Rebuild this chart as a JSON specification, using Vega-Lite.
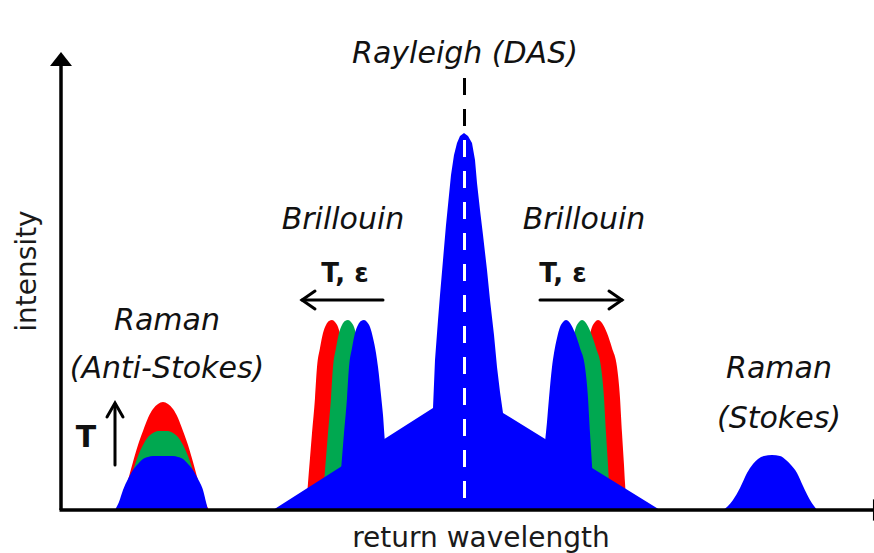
{
  "$schema": "https://vega.github.io/schema/vega-lite/v6.json",
  "width": 813,
  "height": 457,
  "autosize": {"type": "none"},
  "padding": {"left": 61, "top": 53, "right": 0, "bottom": 43},
  "background": "white",
  "config": {"view": {"stroke": null}},
  "datasets": {
    "shapes": [
      {"s":"ras_r","c":"red","x":115,"y":0},{"s":"ras_r","c":"red","x":119,"y":6},{"s":"ras_r","c":"red","x":123,"y":15},{"s":"ras_r","c":"red","x":128,"y":30},{"s":"ras_r","c":"red","x":133,"y":48},{"s":"ras_r","c":"red","x":138,"y":65},{"s":"ras_r","c":"red","x":143,"y":79},{"s":"ras_r","c":"red","x":148,"y":92},{"s":"ras_r","c":"red","x":153,"y":101},{"s":"ras_r","c":"red","x":158,"y":106},{"s":"ras_r","c":"red","x":163,"y":108},{"s":"ras_r","c":"red","x":168,"y":106},{"s":"ras_r","c":"red","x":173,"y":101},{"s":"ras_r","c":"red","x":178,"y":92},{"s":"ras_r","c":"red","x":183,"y":79},{"s":"ras_r","c":"red","x":188,"y":65},{"s":"ras_r","c":"red","x":193,"y":48},{"s":"ras_r","c":"red","x":198,"y":30},{"s":"ras_r","c":"red","x":203,"y":15},{"s":"ras_r","c":"red","x":206,"y":6},{"s":"ras_r","c":"red","x":209,"y":0},

      {"s":"bl_r","c":"red","x":306,"y":0},{"s":"bl_r","c":"red","x":308,"y":27},{"s":"bl_r","c":"red","x":310,"y":52},{"s":"bl_r","c":"red","x":312,"y":77},{"s":"bl_r","c":"red","x":315,"y":112},{"s":"bl_r","c":"red","x":317,"y":143},{"s":"bl_r","c":"red","x":320,"y":162},{"s":"bl_r","c":"red","x":323,"y":177},{"s":"bl_r","c":"red","x":326,"y":185},{"s":"bl_r","c":"red","x":329,"y":189},{"s":"bl_r","c":"red","x":332,"y":190},{"s":"bl_r","c":"red","x":335,"y":188},{"s":"bl_r","c":"red","x":338,"y":183},{"s":"bl_r","c":"red","x":341,"y":172},{"s":"bl_r","c":"red","x":344,"y":157},{"s":"bl_r","c":"red","x":346,"y":143},{"s":"bl_r","c":"red","x":349,"y":115},{"s":"bl_r","c":"red","x":351,"y":95},{"s":"bl_r","c":"red","x":353,"y":68},{"s":"bl_r","c":"red","x":356,"y":45},{"s":"bl_r","c":"red","x":359,"y":25},{"s":"bl_r","c":"red","x":362,"y":5},{"s":"bl_r","c":"red","x":364,"y":0},

      {"s":"br_r","c":"red","x":566,"y":0},{"s":"br_r","c":"red","x":568,"y":5},{"s":"br_r","c":"red","x":571,"y":25},{"s":"br_r","c":"red","x":574,"y":45},{"s":"br_r","c":"red","x":577,"y":68},{"s":"br_r","c":"red","x":579,"y":88},{"s":"br_r","c":"red","x":581,"y":112},{"s":"br_r","c":"red","x":584,"y":143},{"s":"br_r","c":"red","x":586,"y":157},{"s":"br_r","c":"red","x":589,"y":172},{"s":"br_r","c":"red","x":592,"y":183},{"s":"br_r","c":"red","x":595,"y":188},{"s":"br_r","c":"red","x":598,"y":190},{"s":"br_r","c":"red","x":602,"y":187},{"s":"br_r","c":"red","x":607,"y":177},{"s":"br_r","c":"red","x":612,"y":162},{"s":"br_r","c":"red","x":617,"y":143},{"s":"br_r","c":"red","x":620,"y":112},{"s":"br_r","c":"red","x":622,"y":77},{"s":"br_r","c":"red","x":624,"y":45},{"s":"br_r","c":"red","x":625,"y":27},{"s":"br_r","c":"red","x":626,"y":12},{"s":"br_r","c":"red","x":627,"y":0},

      {"s":"ras_g","c":"green","x":117,"y":0},{"s":"ras_g","c":"green","x":122,"y":8},{"s":"ras_g","c":"green","x":127,"y":20},{"s":"ras_g","c":"green","x":132,"y":36},{"s":"ras_g","c":"green","x":138,"y":54},{"s":"ras_g","c":"green","x":143,"y":65},{"s":"ras_g","c":"green","x":148,"y":73},{"s":"ras_g","c":"green","x":153,"y":77},{"s":"ras_g","c":"green","x":158,"y":79},{"s":"ras_g","c":"green","x":163,"y":79},{"s":"ras_g","c":"green","x":168,"y":79},{"s":"ras_g","c":"green","x":173,"y":77},{"s":"ras_g","c":"green","x":178,"y":73},{"s":"ras_g","c":"green","x":183,"y":65},{"s":"ras_g","c":"green","x":188,"y":54},{"s":"ras_g","c":"green","x":194,"y":36},{"s":"ras_g","c":"green","x":199,"y":20},{"s":"ras_g","c":"green","x":204,"y":8},{"s":"ras_g","c":"green","x":208,"y":0},

      {"s":"bl_g","c":"green","x":322,"y":0},{"s":"bl_g","c":"green","x":324,"y":27},{"s":"bl_g","c":"green","x":326,"y":52},{"s":"bl_g","c":"green","x":328,"y":77},{"s":"bl_g","c":"green","x":331,"y":112},{"s":"bl_g","c":"green","x":333,"y":143},{"s":"bl_g","c":"green","x":336,"y":162},{"s":"bl_g","c":"green","x":339,"y":177},{"s":"bl_g","c":"green","x":342,"y":185},{"s":"bl_g","c":"green","x":345,"y":189},{"s":"bl_g","c":"green","x":348,"y":190},{"s":"bl_g","c":"green","x":351,"y":188},{"s":"bl_g","c":"green","x":354,"y":183},{"s":"bl_g","c":"green","x":357,"y":172},{"s":"bl_g","c":"green","x":360,"y":157},{"s":"bl_g","c":"green","x":362,"y":143},{"s":"bl_g","c":"green","x":365,"y":115},{"s":"bl_g","c":"green","x":367,"y":95},{"s":"bl_g","c":"green","x":369,"y":68},{"s":"bl_g","c":"green","x":372,"y":45},{"s":"bl_g","c":"green","x":375,"y":25},{"s":"bl_g","c":"green","x":378,"y":5},{"s":"bl_g","c":"green","x":380,"y":0},

      {"s":"br_g","c":"green","x":550,"y":0},{"s":"br_g","c":"green","x":552,"y":5},{"s":"br_g","c":"green","x":555,"y":25},{"s":"br_g","c":"green","x":558,"y":45},{"s":"br_g","c":"green","x":561,"y":68},{"s":"br_g","c":"green","x":563,"y":88},{"s":"br_g","c":"green","x":565,"y":112},{"s":"br_g","c":"green","x":568,"y":143},{"s":"br_g","c":"green","x":570,"y":157},{"s":"br_g","c":"green","x":573,"y":172},{"s":"br_g","c":"green","x":576,"y":183},{"s":"br_g","c":"green","x":579,"y":188},{"s":"br_g","c":"green","x":582,"y":190},{"s":"br_g","c":"green","x":586,"y":187},{"s":"br_g","c":"green","x":591,"y":177},{"s":"br_g","c":"green","x":596,"y":162},{"s":"br_g","c":"green","x":601,"y":143},{"s":"br_g","c":"green","x":604,"y":112},{"s":"br_g","c":"green","x":606,"y":77},{"s":"br_g","c":"green","x":608,"y":45},{"s":"br_g","c":"green","x":609,"y":27},{"s":"br_g","c":"green","x":610,"y":12},{"s":"br_g","c":"green","x":611,"y":0},

      {"s":"ras_b","c":"blue","x":115,"y":0},{"s":"ras_b","c":"blue","x":119,"y":8},{"s":"ras_b","c":"blue","x":123,"y":20},{"s":"ras_b","c":"blue","x":128,"y":31},{"s":"ras_b","c":"blue","x":133,"y":40},{"s":"ras_b","c":"blue","x":138,"y":46},{"s":"ras_b","c":"blue","x":143,"y":51},{"s":"ras_b","c":"blue","x":148,"y":53},{"s":"ras_b","c":"blue","x":153,"y":54},{"s":"ras_b","c":"blue","x":163,"y":54},{"s":"ras_b","c":"blue","x":173,"y":54},{"s":"ras_b","c":"blue","x":178,"y":53},{"s":"ras_b","c":"blue","x":183,"y":51},{"s":"ras_b","c":"blue","x":188,"y":46},{"s":"ras_b","c":"blue","x":193,"y":40},{"s":"ras_b","c":"blue","x":198,"y":31},{"s":"ras_b","c":"blue","x":203,"y":20},{"s":"ras_b","c":"blue","x":206,"y":8},{"s":"ras_b","c":"blue","x":208,"y":0},

      {"s":"center","c":"blue","x":273,"y":0},{"s":"center","c":"blue","x":433,"y":102},{"s":"center","c":"blue","x":435,"y":150},{"s":"center","c":"blue","x":438,"y":190},{"s":"center","c":"blue","x":440,"y":215},{"s":"center","c":"blue","x":443,"y":250},{"s":"center","c":"blue","x":446,"y":285},{"s":"center","c":"blue","x":449,"y":315},{"s":"center","c":"blue","x":451,"y":335},{"s":"center","c":"blue","x":454,"y":355},{"s":"center","c":"blue","x":457,"y":367},{"s":"center","c":"blue","x":460,"y":374},{"s":"center","c":"blue","x":464,"y":377},{"s":"center","c":"blue","x":468,"y":374},{"s":"center","c":"blue","x":472,"y":367},{"s":"center","c":"blue","x":475,"y":350},{"s":"center","c":"blue","x":477,"y":327},{"s":"center","c":"blue","x":480,"y":300},{"s":"center","c":"blue","x":483,"y":275},{"s":"center","c":"blue","x":487,"y":240},{"s":"center","c":"blue","x":490,"y":210},{"s":"center","c":"blue","x":494,"y":175},{"s":"center","c":"blue","x":497,"y":143},{"s":"center","c":"blue","x":500,"y":118},{"s":"center","c":"blue","x":503,"y":97},{"s":"center","c":"blue","x":660,"y":0},

      {"s":"bl_b","c":"blue","x":338,"y":0},{"s":"bl_b","c":"blue","x":340,"y":27},{"s":"bl_b","c":"blue","x":342,"y":52},{"s":"bl_b","c":"blue","x":344,"y":77},{"s":"bl_b","c":"blue","x":347,"y":112},{"s":"bl_b","c":"blue","x":349,"y":143},{"s":"bl_b","c":"blue","x":352,"y":162},{"s":"bl_b","c":"blue","x":355,"y":177},{"s":"bl_b","c":"blue","x":358,"y":185},{"s":"bl_b","c":"blue","x":361,"y":189},{"s":"bl_b","c":"blue","x":364,"y":190},{"s":"bl_b","c":"blue","x":367,"y":188},{"s":"bl_b","c":"blue","x":370,"y":183},{"s":"bl_b","c":"blue","x":373,"y":172},{"s":"bl_b","c":"blue","x":376,"y":157},{"s":"bl_b","c":"blue","x":378,"y":143},{"s":"bl_b","c":"blue","x":381,"y":115},{"s":"bl_b","c":"blue","x":383,"y":95},{"s":"bl_b","c":"blue","x":385,"y":68},{"s":"bl_b","c":"blue","x":388,"y":45},{"s":"bl_b","c":"blue","x":391,"y":25},{"s":"bl_b","c":"blue","x":394,"y":5},{"s":"bl_b","c":"blue","x":396,"y":0},

      {"s":"br_b","c":"blue","x":534,"y":0},{"s":"br_b","c":"blue","x":536,"y":5},{"s":"br_b","c":"blue","x":539,"y":25},{"s":"br_b","c":"blue","x":542,"y":45},{"s":"br_b","c":"blue","x":545,"y":68},{"s":"br_b","c":"blue","x":547,"y":88},{"s":"br_b","c":"blue","x":549,"y":112},{"s":"br_b","c":"blue","x":552,"y":143},{"s":"br_b","c":"blue","x":554,"y":157},{"s":"br_b","c":"blue","x":557,"y":172},{"s":"br_b","c":"blue","x":560,"y":183},{"s":"br_b","c":"blue","x":563,"y":188},{"s":"br_b","c":"blue","x":566,"y":190},{"s":"br_b","c":"blue","x":570,"y":187},{"s":"br_b","c":"blue","x":575,"y":177},{"s":"br_b","c":"blue","x":580,"y":162},{"s":"br_b","c":"blue","x":585,"y":143},{"s":"br_b","c":"blue","x":588,"y":112},{"s":"br_b","c":"blue","x":590,"y":77},{"s":"br_b","c":"blue","x":592,"y":45},{"s":"br_b","c":"blue","x":593,"y":27},{"s":"br_b","c":"blue","x":594,"y":12},{"s":"br_b","c":"blue","x":595,"y":0},

      {"s":"rs_b","c":"blue","x":723,"y":0},{"s":"rs_b","c":"blue","x":728,"y":4},{"s":"rs_b","c":"blue","x":733,"y":10},{"s":"rs_b","c":"blue","x":740,"y":22},{"s":"rs_b","c":"blue","x":747,"y":37},{"s":"rs_b","c":"blue","x":753,"y":46},{"s":"rs_b","c":"blue","x":758,"y":51},{"s":"rs_b","c":"blue","x":764,"y":54},{"s":"rs_b","c":"blue","x":772,"y":55},{"s":"rs_b","c":"blue","x":780,"y":54},{"s":"rs_b","c":"blue","x":786,"y":50},{"s":"rs_b","c":"blue","x":791,"y":45},{"s":"rs_b","c":"blue","x":797,"y":37},{"s":"rs_b","c":"blue","x":803,"y":24},{"s":"rs_b","c":"blue","x":810,"y":10},{"s":"rs_b","c":"blue","x":814,"y":4},{"s":"rs_b","c":"blue","x":817,"y":0}
    ],
    "segs": [
      {"id":"arrL","o":1,"x":383,"y":210},{"id":"arrL","o":2,"x":302,"y":210},
      {"id":"arrLh","o":1,"x":315,"y":219},{"id":"arrLh","o":2,"x":302,"y":210},{"id":"arrLh","o":3,"x":315,"y":201},
      {"id":"arrR","o":1,"x":540,"y":210},{"id":"arrR","o":2,"x":622,"y":210},
      {"id":"arrRh","o":1,"x":609,"y":219},{"id":"arrRh","o":2,"x":622,"y":210},{"id":"arrRh","o":3,"x":609,"y":201},
      {"id":"arrT","o":1,"x":115,"y":45},{"id":"arrT","o":2,"x":115,"y":106},
      {"id":"arrTh","o":1,"x":107,"y":93},{"id":"arrTh","o":2,"x":115,"y":107},{"id":"arrTh","o":3,"x":123,"y":93}
    ],
    "axes": [
      {"x":61,"y":0,"x2":61,"y2":452},
      {"x":59.5,"y":0,"x2":880,"y2":0}
    ],
    "headUp": [{"x":61,"y":451}],
    "headRight": [{"x":880,"y":0}],
    "dashBlack": [{"x":464.5,"y":432,"y2":380}],
    "dashWhite": [{"x":464.5,"y":370,"y2":0}],
    "italicLabels": [
      {"t":"Rayleigh (DAS)","x":465,"y":447},
      {"t":"Brillouin","x":343,"y":281},
      {"t":"Brillouin","x":584,"y":281},
      {"t":"Raman","x":167,"y":180},
      {"t":"(Anti-Stokes)","x":167,"y":132},
      {"t":"Raman","x":779,"y":132},
      {"t":"(Stokes)","x":779,"y":82}
    ],
    "boldLabels": [
      {"t":"T, ε","x":345,"y":228},
      {"t":"T, ε","x":563,"y":228}
    ],
    "tLabel": [{"t":"T","x":86,"y":63}],
    "xTitle": [{"t":"return wavelength","x":481,"y":-37}],
    "yTitle": [{"t":"intensity","x":28,"y":239}]
  },
  "encoding": {
    "x": {"field": "x", "type": "quantitative", "scale": {"domain": [61, 874], "nice": false, "zero": false}, "axis": null},
    "y": {"field": "y", "type": "quantitative", "stack": null, "scale": {"domain": [0, 457], "nice": false, "zero": false}, "axis": null}
  },
  "layer": [
    {
      "data": {"name": "shapes"},
      "transform": [{"filter": "datum.c === 'red'"}],
      "mark": {"type": "area", "color": "#FF0000", "interpolate": "monotone"},
      "encoding": {"detail": {"field": "s"}}
    },
    {
      "data": {"name": "shapes"},
      "transform": [{"filter": "datum.c === 'green'"}],
      "mark": {"type": "area", "color": "#00A850", "interpolate": "monotone"},
      "encoding": {"detail": {"field": "s"}}
    },
    {
      "data": {"name": "shapes"},
      "transform": [{"filter": "datum.c === 'blue' && datum.s === 'center'"}],
      "mark": {"type": "area", "color": "#0000FF", "interpolate": "linear"},
      "encoding": {"detail": {"field": "s"}}
    },
    {
      "data": {"name": "shapes"},
      "transform": [{"filter": "datum.c === 'blue' && datum.s !== 'center'"}],
      "mark": {"type": "area", "color": "#0000FF", "interpolate": "monotone"},
      "encoding": {"detail": {"field": "s"}}
    },
    {
      "data": {"name": "dashBlack"},
      "mark": {"type": "rule", "color": "#000000", "strokeWidth": 3, "strokeDash": [17, 14]},
      "encoding": {"y2": {"field": "y2"}}
    },
    {
      "data": {"name": "dashWhite"},
      "mark": {"type": "rule", "color": "#FFFFFF", "strokeWidth": 3, "strokeDash": [17, 14]},
      "encoding": {"y2": {"field": "y2"}}
    },
    {
      "data": {"name": "axes"},
      "mark": {"type": "rule", "color": "#000000", "strokeWidth": 3.5},
      "encoding": {"x2": {"field": "x2"}, "y2": {"field": "y2"}}
    },
    {
      "data": {"name": "headUp"},
      "mark": {"type": "point", "shape": "M0,-0.64L1,0.64L-1,0.64Z", "filled": true, "size": 484, "color": "#000000", "opacity": 1}
    },
    {
      "data": {"name": "headRight"},
      "mark": {"type": "point", "shape": "M-0.64,-1L0.64,0L-0.64,1Z", "filled": true, "size": 484, "color": "#000000", "opacity": 1}
    },
    {
      "data": {"name": "segs"},
      "mark": {"type": "line", "color": "#000000", "strokeWidth": 3, "strokeCap": "round", "strokeJoin": "miter"},
      "encoding": {"detail": {"field": "id"}, "order": {"field": "o", "type": "quantitative"}}
    },
    {
      "data": {"name": "italicLabels"},
      "mark": {"type": "text", "font": "DejaVu Sans", "fontStyle": "italic", "fontSize": 30, "color": "#111111", "align": "center", "baseline": "alphabetic"},
      "encoding": {"text": {"field": "t"}}
    },
    {
      "data": {"name": "boldLabels"},
      "mark": {"type": "text", "font": "DejaVu Sans", "fontWeight": "bold", "fontSize": 26, "color": "#111111", "align": "center", "baseline": "alphabetic"},
      "encoding": {"text": {"field": "t"}}
    },
    {
      "data": {"name": "tLabel"},
      "mark": {"type": "text", "font": "DejaVu Sans", "fontWeight": "bold", "fontSize": 30, "color": "#111111", "align": "center", "baseline": "alphabetic"},
      "encoding": {"text": {"field": "t"}}
    },
    {
      "data": {"name": "xTitle"},
      "mark": {"type": "text", "font": "DejaVu Sans", "fontSize": 28, "color": "#1a1a1a", "align": "center", "baseline": "alphabetic"},
      "encoding": {"text": {"field": "t"}}
    },
    {
      "data": {"name": "yTitle"},
      "mark": {"type": "text", "font": "DejaVu Sans", "fontSize": 28, "color": "#1a1a1a", "align": "center", "baseline": "middle", "angle": 270},
      "encoding": {"text": {"field": "t"}}
    }
  ]
}
